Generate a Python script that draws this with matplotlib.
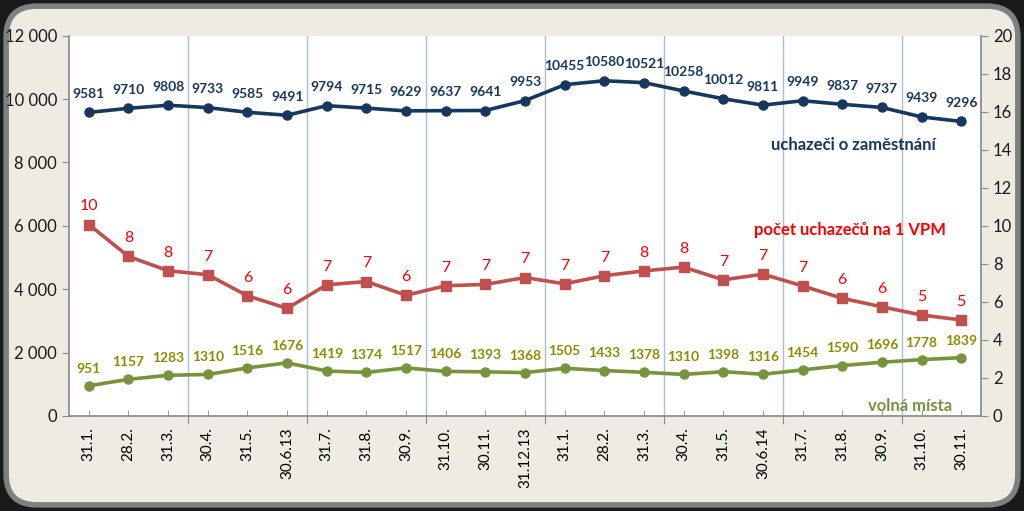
import matplotlib
matplotlib.use("Agg")
import matplotlib.pyplot as plt
from matplotlib.patches import FancyBboxPatch
from matplotlib.ticker import FuncFormatter, MultipleLocator, FixedLocator

# --- Data ---
dates = ["31.1.", "28.2.", "31.3.", "30.4.", "31.5.", "30.6.13", "31.7.", "31.8.",
         "30.9.", "31.10.", "30.11.", "31.12.13", "31.1.", "28.2.", "31.3.", "30.4.",
         "31.5.", "30.6.14", "31.7.", "31.8.", "30.9.", "31.10.", "30.11."]
uchazeci = [9581, 9710, 9808, 9733, 9585, 9491, 9794, 9715, 9629, 9637, 9641, 9953,
            10455, 10580, 10521, 10258, 10012, 9811, 9949, 9837, 9737, 9439, 9296]
volna_mista = [951, 1157, 1283, 1310, 1516, 1676, 1419, 1374, 1517, 1406, 1393, 1368,
               1505, 1433, 1378, 1310, 1398, 1316, 1454, 1590, 1696, 1778, 1839]
na_1_vpm = [10.07, 8.39, 7.64, 7.43, 6.32, 5.66, 6.90, 7.07, 6.35, 6.85, 6.92, 7.28,
            6.95, 7.38, 7.63, 7.83, 7.16, 7.46, 6.84, 6.19, 5.74, 5.31, 5.05]

# --- Style ---
navy = "#17375E"
red_line = "#C0504D"
red_text = "#FF0000"
green_line = "#77933C"
green_text = "#8C8C00"
grid_blue = "#A8BEDC"
plt.rcParams["font.family"] = ["Lato", "DejaVu Sans"]

fig = plt.figure(figsize=(10.24, 5.11), dpi=100, facecolor="#1a1a1a")
frame = FancyBboxPatch((0.006, 0.012), 0.988, 0.976, boxstyle="round,pad=0,rounding_size=0.03",
                       transform=fig.transFigure, facecolor="#EEECE2", edgecolor="#808080",
                       linewidth=4, mutation_aspect=2.0, zorder=-10)
fig.add_artist(frame)

ax = fig.add_axes([0.0674, 0.186, 0.8906, 0.744])
ax2 = ax.twinx()
x = list(range(len(dates)))

# vertical quarter lines
ax.set_xlim(-0.5, len(dates) - 0.5)
ax.xaxis.set_major_locator(FixedLocator([i + 0.5 for i in range(2, len(dates) - 1, 3)]))
ax.grid(True, axis="x", which="major", color=grid_blue, linewidth=1)
ax.set_xticklabels([])
ax.set_xticks(x, minor=True)
ax.set_xticklabels(dates, minor=True, rotation=90, fontsize=11)
ax.tick_params(axis="x", which="major", length=6, color="#888888")
ax.tick_params(axis="x", which="minor", length=4, direction="in", color="#888888", pad=8)

ax.plot(x, uchazeci, color=navy, linewidth=2.6, marker="o", markersize=6.5, zorder=5)
ax.plot(x, volna_mista, color=green_line, linewidth=2.6, marker="o", markersize=6.5, zorder=5)
ax2.plot(x, na_1_vpm, color=red_line, linewidth=2.6, marker="s", markersize=6.5, zorder=5)

for xi, v in zip(x, uchazeci):
    ax.annotate(str(v), (xi, v), xytext=(0, 9), textcoords="offset points", ha="center",
                va="bottom", fontsize=10, fontweight="bold", color=navy)
for xi, v in zip(x, volna_mista):
    ax.annotate(str(v), (xi, v), xytext=(0, 8), textcoords="offset points", ha="center",
                va="bottom", fontsize=10, fontweight="bold", color=green_text)
for xi, v in zip(x, na_1_vpm):
    ax2.annotate(f"{v:.0f}", (xi, v), xytext=(0, 8), textcoords="offset points", ha="center",
                 va="bottom", fontsize=11.5, color=red_text)

ax.set_ylim(0, 12000)
ax.yaxis.set_major_locator(MultipleLocator(2000))
ax.yaxis.set_major_formatter(FuncFormatter(lambda v, p: f"{int(v):,}".replace(",", " ")))
ax2.set_ylim(0, 20)
ax2.yaxis.set_major_locator(MultipleLocator(2))
for a in (ax, ax2):
    a.tick_params(axis="y", labelsize=12, length=5, color="#888888", labelcolor="#1a1a1a")
    for s in a.spines.values():
        s.set_visible(False)
ax.spines["left"].set_visible(True)
ax.spines["bottom"].set_visible(True)
ax2.spines["right"].set_visible(True)
for s in (ax.spines["left"], ax.spines["bottom"], ax2.spines["right"]):
    s.set_color("#888888")
    s.set_linewidth(1.2)
ax.set_facecolor("white")

ax2.text(0.95, 0.70, "uchazeči o zaměstnání", transform=ax2.transAxes, ha="right",
         fontsize=12, fontweight="bold", color=navy)
ax2.text(0.962, 0.475, "počet uchazečů na 1 VPM", transform=ax2.transAxes, ha="right",
         fontsize=12, fontweight="bold", color=red_text)
ax2.text(0.968, 0.012, "volná místa", transform=ax2.transAxes, ha="right",
         fontsize=12, fontweight="bold", color=green_line)

fig.savefig("out.png", dpi=100, facecolor=fig.get_facecolor())
